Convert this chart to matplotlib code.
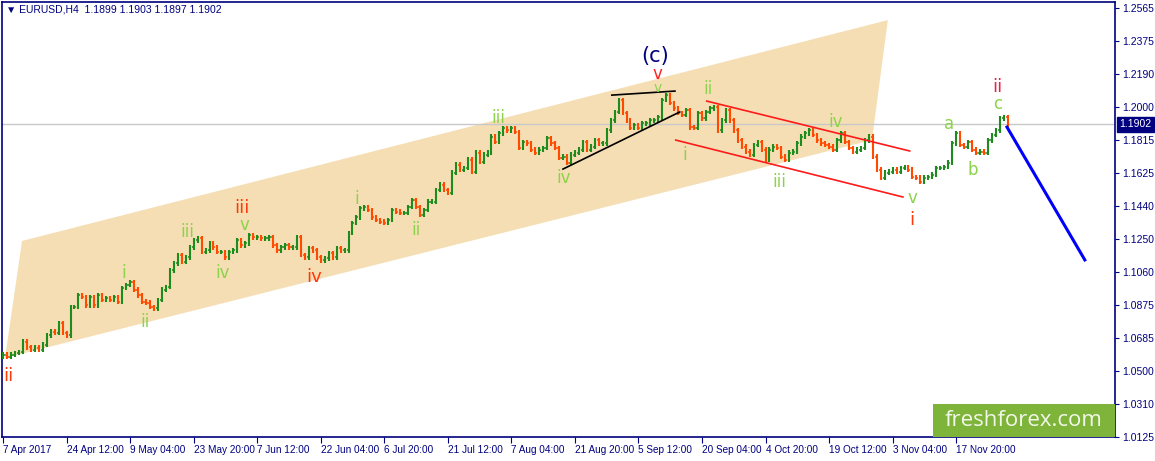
import numpy as np
import matplotlib
matplotlib.use('Agg')
import matplotlib.pyplot as plt
from matplotlib.patches import Polygon, Rectangle

# closes (each value ~ 4 px of the original)
closes = [
    1.0590, 1.0579, 1.0590, 1.0601, 1.0607, 1.0664, 1.0635, 1.0618, 1.0630, 1.0618,
    1.0647, 1.0703, 1.0721, 1.0715, 1.0772, 1.0715, 1.0703, 1.0863, 1.0863, 1.0931,
    1.0920, 1.0874, 1.0920, 1.0874, 1.0931, 1.0903, 1.0914, 1.0903, 1.0920, 1.0892,
    1.0971, 1.0988, 1.1005, 1.0960, 1.0931, 1.0892, 1.0886, 1.0863, 1.0857, 1.0903,
    1.0960, 1.0977, 1.1073, 1.1113, 1.1159, 1.1119, 1.1147, 1.1204, 1.1244, 1.1255,
    1.1176, 1.1187, 1.1227, 1.1204, 1.1176, 1.1176, 1.1147, 1.1176, 1.1187, 1.1244,
    1.1215, 1.1227, 1.1272, 1.1261, 1.1261, 1.1255,
    1.1255, 1.1261, 1.1215, 1.1187, 1.1204, 1.1215, 1.1204, 1.1204, 1.1261, 1.1159,
    1.1147, 1.1198, 1.1187, 1.1147, 1.1130, 1.1141, 1.1170, 1.1147, 1.1198, 1.1187,
    1.1187, 1.1284, 1.1341, 1.1375, 1.1426, 1.1432, 1.1415, 1.1375, 1.1358, 1.1347,
    1.1341, 1.1358, 1.1415, 1.1404, 1.1398, 1.1398, 1.1432, 1.1472, 1.1432, 1.1387,
    1.1415, 1.1461, 1.1461, 1.1529, 1.1558, 1.1529, 1.1512, 1.1626, 1.1672, 1.1643,
    1.1654, 1.1700, 1.1632, 1.1740, 1.1689, 1.1729, 1.1740, 1.1831, 1.1802, 1.1853,
    1.1882, 1.1870, 1.1882,
    1.1859, 1.1768, 1.1802, 1.1796, 1.1757, 1.1740, 1.1757, 1.1768, 1.1825, 1.1796,
    1.1768, 1.1711, 1.1717, 1.1683, 1.1729, 1.1740, 1.1757, 1.1802, 1.1757, 1.1774,
    1.1813, 1.1796, 1.1796, 1.1870, 1.1927, 1.1973, 1.2041, 1.1967, 1.1927, 1.1882,
    1.1899, 1.1882, 1.1910, 1.1910, 1.1927, 1.1927, 1.1944, 1.2041, 1.2069, 1.2024,
    1.1995, 1.1967, 1.1956, 1.1984, 1.1887, 1.1882, 1.1967, 1.1938, 1.1973, 1.1995,
    1.2001, 1.1870, 1.1927, 1.1984, 1.1927, 1.1870, 1.1813, 1.1774, 1.1746, 1.1729,
    1.1785, 1.1802,
    1.1757, 1.1700, 1.1757, 1.1774, 1.1768, 1.1717, 1.1700, 1.1740, 1.1746, 1.1796,
    1.1831, 1.1853, 1.1870, 1.1842, 1.1813, 1.1796, 1.1785, 1.1774, 1.1757, 1.1813,
    1.1853, 1.1802, 1.1768, 1.1746, 1.1757, 1.1768, 1.1813, 1.1831, 1.1717, 1.1643,
    1.1598, 1.1626, 1.1632, 1.1643, 1.1632, 1.1654, 1.1660, 1.1643, 1.1603, 1.1598,
    1.1575, 1.1598, 1.1603, 1.1615, 1.1654, 1.1654, 1.1660, 1.1683, 1.1796, 1.1853,
    1.1785, 1.1774, 1.1802, 1.1757, 1.1740, 1.1746, 1.1740, 1.1813, 1.1842, 1.1870,
    1.1937, 1.1943, 1.1902,
]

date_labels = ['7 Apr 2017', '24 Apr 12:00', '9 May 04:00', '23 May 20:00', '7 Jun 12:00',
               '22 Jun 04:00', '6 Jul 20:00', '21 Jul 12:00', '7 Aug 04:00', '21 Aug 20:00',
               '5 Sep 12:00', '20 Sep 04:00', '4 Oct 20:00', '19 Oct 12:00', '3 Nov 04:00',
               '17 Nov 20:00']
price_ticks = [1.2565, 1.2375, 1.2190, 1.2000, 1.1815, 1.1625, 1.1440, 1.1250,
               1.1060, 1.0875, 1.0685, 1.0500, 1.0310, 1.0125]
last_price = 1.1902

# drawn objects (bar index, price)
channel = [(4.8, 1.1239), (222.8, 1.2496), (218.8, 1.1813), (0.5, 1.0573)]
tri_upper = [(153.3, 1.2069), (169.2, 1.2092)]
tri_lower = [(141.0, 1.1648), (170.4, 1.1973)]
red_upper = [(177.2, 1.2035), (228.3, 1.1751)]
red_lower = [(169.4, 1.1813), (226.6, 1.1489)]
blue_line = [(252.8, 1.1887), (272.4, 1.1131)]

GREEN_LBL = '#8CD24C'
RED_LBL = '#FF3A0A'
wave_labels = [
    ('ii', 1.3, 1.0471, RED_LBL, 13), ('i', 30.5, 1.1057, GREEN_LBL, 12),
    ('ii', 35.7, 1.0778, GREEN_LBL, 12), ('iii', 46.3, 1.1290, GREEN_LBL, 12),
    ('iv', 55.4, 1.1057, GREEN_LBL, 12), ('v', 60.7, 1.1330, GREEN_LBL, 12),
    ('iii', 60.2, 1.1426, RED_LBL, 13), ('iv', 78.3, 1.1034, RED_LBL, 13),
    ('i', 89.1, 1.1478, GREEN_LBL, 12), ('ii', 104.0, 1.1301, GREEN_LBL, 12),
    ('iii', 124.6, 1.1939, GREEN_LBL, 12), ('iv', 141.2, 1.1597, GREEN_LBL, 12),
    ('v', 164.7, 1.2190, '#FF2020', 12), ('v', 164.9, 1.2108, GREEN_LBL, 10),
    ('ii', 177.5, 1.2104, GREEN_LBL, 12), ('i', 171.7, 1.1728, GREEN_LBL, 12),
    ('iii', 195.6, 1.1574, GREEN_LBL, 12), ('iv', 209.7, 1.1916, GREEN_LBL, 12),
    ('v', 228.9, 1.1483, GREEN_LBL, 12), ('i', 228.9, 1.1358, RED_LBL, 13),
    ('a', 238.2, 1.1904, GREEN_LBL, 12), ('b', 244.2, 1.1643, GREEN_LBL, 12),
    ('c', 250.5, 1.2018, GREEN_LBL, 12), ('ii', 250.5, 1.2118, '#E8234A', 13),
]

NAVY = '#000080'

closes = np.array(closes)
n = len(closes)
x = np.arange(n)
opens = np.concatenate([[closes[0] - 0.0010], closes[:-1]])
highs = np.maximum(opens, closes) + 0.0014
lows = np.minimum(opens, closes) - 0.0014
cols = np.where(closes >= opens, '#1E8B1E', '#FF4A00')

fig = plt.figure(figsize=(11.55, 4.61), dpi=100)
ax = fig.add_axes([2 / 1155, 24 / 461, 1113 / 1155, 435 / 461])
ax.set_xlim(-0.25, 280)
ax.set_ylim(1.0123, 1.2599)

ax.add_patch(Polygon(channel, closed=True, facecolor='#F5DEB3', edgecolor='none', zorder=1))
ax.axhline(last_price, color='#C8C8C8', lw=1, zorder=2)

ax.vlines(x, lows, highs, colors=cols, lw=1.5, zorder=3)
ax.hlines(opens, x - 0.4, x, colors=cols, lw=1.1, zorder=3)
ax.hlines(closes, x, x + 0.4, colors=cols, lw=1.1, zorder=3)

for pts, c, w in [(tri_upper, 'black', 1.2), (tri_lower, 'black', 1.2),
                  (red_upper, '#FF1A1A', 1.2), (red_lower, '#FF1A1A', 1.2),
                  (blue_line, '#0000FF', 2.2)]:
    ax.plot([p[0] for p in pts], [p[1] for p in pts], color=c, lw=w, zorder=4)

for txt, lx, ly, c, fs in wave_labels:
    ax.text(lx, ly, txt, color=c, fontsize=fs, ha='center', va='center', zorder=5)
ax.text(164.1, 1.2292, '(c)', color=NAVY, fontsize=15, ha='center', va='center', zorder=5)

# axes styling
for s in ax.spines.values():
    s.set_color(NAVY)
    s.set_linewidth(1.2)
ax.yaxis.tick_right()
ax.set_yticks(price_ticks)
ax.set_yticklabels(['%.4f' % v for v in price_ticks], family='Liberation Sans')
ax.tick_params(axis='y', colors=NAVY, labelsize=7.5, length=3, pad=2)
ax.set_xticks(np.arange(len(date_labels)) * 16)
ax.set_xticklabels(date_labels, ha='left', family='Liberation Sans')
ax.tick_params(axis='x', colors=NAVY, labelsize=7.2, length=4, pad=2)

ax.annotate('%.4f' % last_price, xy=(1.0, last_price), xycoords=('axes fraction', 'data'),
            xytext=(3, 0), textcoords='offset points', ha='left', va='center',
            fontsize=7.5, color='white', family='Liberation Sans',
            bbox=dict(boxstyle='square,pad=0.25', facecolor=NAVY, edgecolor=NAVY),
            annotation_clip=False, zorder=6)

ax.text(0.004, 0.982, '\u25bc EURUSD,H4  1.1899 1.1903 1.1897 1.1902', transform=ax.transAxes,
        fontsize=7.5, color=NAVY, ha='left', va='center',
        family=['Liberation Sans', 'DejaVu Sans'])

# watermark
ax.add_patch(Rectangle((0.8365, 0.0), 0.1635, 0.076, transform=ax.transAxes,
                       facecolor='#7FB43A', edgecolor='none', zorder=7))
ax.text(0.918, 0.037, 'freshforex.com', transform=ax.transAxes, fontsize=16,
        family='Open Sans', color='#F2F7EA', ha='center', va='center', zorder=8)

fig.savefig('out.png', dpi=100)
